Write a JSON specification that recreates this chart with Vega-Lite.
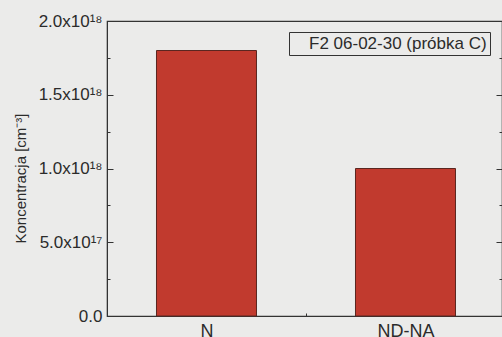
{
  "$schema": "https://vega.github.io/schema/vega-lite/v6.json",
  "autosize": {"type": "none"},
  "width": 395,
  "height": 295,
  "padding": {"left": 107, "top": 21, "right": 0, "bottom": 21},
  "background": "#ebebea",
  "config": {
    "font": "Liberation Sans",
    "view": {"stroke": "#333333", "strokeWidth": 1.2},
    "axis": {
      "labelFont": "Liberation Sans",
      "titleFont": "Liberation Sans",
      "labelColor": "#2b2b2b",
      "titleColor": "#2b2b2b",
      "domainColor": "#333333",
      "tickColor": "#333333",
      "grid": false,
      "labelFontSize": 17,
      "titleFontSize": 15,
      "titleFontWeight": "normal"
    }
  },
  "data": {
    "values": [
      {"probka": "N", "idx": 1, "koncentracja": 1.8e18, "seria": "F2 06-02-30 (próbka C)"},
      {"probka": "ND-NA", "idx": 2, "koncentracja": 1.0e18, "seria": "F2 06-02-30 (próbka C)"}
    ]
  },
  "layer": [
    {
      "mark": {"type": "bar", "width": 100, "stroke": "#5a2620", "strokeWidth": 1},
      "encoding": {
        "x": {
          "field": "idx",
          "type": "quantitative",
          "scale": {"domain": [0.5, 2.485], "nice": false, "zero": false, "padding": 0},
          "axis": {
            "title": null,
            "values": [1, 1.5, 2],
            "labelExpr": "datum.value === 1 ? 'N' : datum.value === 2 ? 'ND-NA' : ''",
            "tickSize": {"condition": {"test": "datum.value === 1.5", "value": -3}, "value": -6},
            "labelPadding": 12,
            "labelFontSize": 18,
            "domain": true
          }
        },
        "y": {
          "field": "koncentracja",
          "type": "quantitative",
          "scale": {"domain": [0, 2e18], "nice": false, "padding": 0},
          "axis": {
            "title": "Koncentracja [cm⁻³]",
            "values": [0, 2.5e17, 5e17, 7.5e17, 1e18, 1.25e18, 1.5e18, 1.75e18, 2e18],
            "labelExpr": "datum.value % 5e17 !== 0 ? '' : datum.value === 0 ? '0.0' : datum.value >= 1e18 ? format(datum.value / 1e18, '.1f') + 'x10¹⁸' : format(datum.value / 1e17, '.1f') + 'x10¹⁷'",
            "tickSize": {"condition": {"test": "datum.value % 5e17 === 0", "value": -6}, "value": -3},
            "labelPadding": 11,
            "titleX": -82,
            "titleY": 157,
            "titleBaseline": "alphabetic"
          }
        },
        "color": {
          "field": "seria",
          "type": "nominal",
          "scale": {"range": ["#c13a2e"]},
          "legend": {
            "title": null,
            "orient": "none",
            "legendX": 182,
            "legendY": 11,
            "symbolSize": 0,
            "symbolStrokeWidth": 0,
            "symbolOpacity": 0,
            "labelOffset": 0,
            "labelLimit": 400,
            "labelFontSize": 17,
            "labelFont": "Liberation Sans",
            "labelColor": "#2b2b2b",
            "strokeColor": "#333333",
            "padding": 3
          }
        }
      }
    },
    {
      "mark": {"type": "bar", "width": 100, "opacity": 0},
      "encoding": {
        "x": {"field": "idx", "type": "quantitative", "scale": {"domain": [0.5, 2.485], "nice": false, "zero": false, "padding": 0}},
        "y": {
          "field": "koncentracja",
          "type": "quantitative",
          "scale": {"domain": [0, 2e18], "nice": false, "padding": 0},
          "axis": {
            "orient": "right",
            "title": null,
            "domain": false,
            "labels": false,
            "values": [0, 2.5e17, 5e17, 7.5e17, 1e18, 1.25e18, 1.5e18, 1.75e18, 2e18],
            "tickSize": {"condition": {"test": "datum.value % 5e17 === 0", "value": -6}, "value": -3}
          }
        }
      }
    }
  ],
  "resolve": {"scale": {"y": "independent"}}
}
